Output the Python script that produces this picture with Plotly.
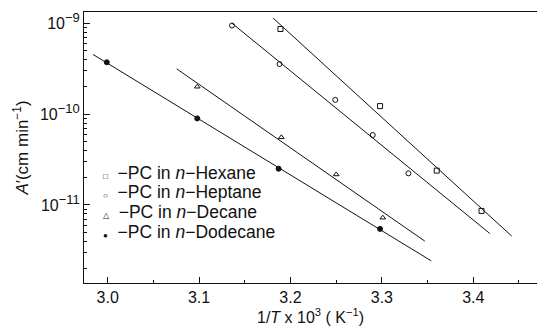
import numpy as np
import plotly.graph_objects as go

# 1/T x 10^3 (K^-1) and A' (cm min^-1) for PC in each n-alkane
hexane_x = [3.189, 3.298, 3.360, 3.409]
hexane_y = [8.7e-10, 1.23e-10, 2.39e-11, 8.6e-12]

heptane_x = [3.136, 3.188, 3.249, 3.290, 3.329]
heptane_y = [9.5e-10, 3.58e-10, 1.44e-10, 5.9e-11, 2.23e-11]

decane_x = [3.098, 3.190, 3.250, 3.301]
decane_y = [2.01e-10, 5.57e-11, 2.17e-11, 7.24e-12]

dodecane_x = [2.999, 3.098, 3.187, 3.298]
dodecane_y = [3.74e-10, 9.0e-11, 2.51e-11, 5.45e-12]

# x-extent of each Arrhenius fit line
hexane_fit_span = [3.181, 3.442]
heptane_fit_span = [3.136, 3.418]
decane_fit_span = [3.0755, 3.347]
dodecane_fit_span = [2.984, 3.354]

x_tick_vals = [3.0, 3.1, 3.2, 3.3, 3.4]
x_tick_text = ["3.0", "3.1", "3.2", "3.3", "3.4"]
y_tick_vals = [1e-11, 1e-10, 1e-9]
y_tick_text = [
    "10<sup><span style='font-size:13px'>−11</span></sup>",
    "10<sup><span style='font-size:13px'>−10</span></sup>",
    "10<sup><span style='font-size:13px'>−9</span></sup>",
]

legend_labels = [
    "−PC in <i>n</i>−Hexane",
    "−PC in <i>n</i>−Heptane",
    "−PC in <i>n</i>−Decane",
    "−PC in <i>n</i>−Dodecane",
]

FONT = "Liberation Sans, Arial, sans-serif"
INK = "#111111"

series = [
    (hexane_x, hexane_y, hexane_fit_span, "square-open", 5),
    (heptane_x, heptane_y, heptane_fit_span, "circle-open", 5),
    (decane_x, decane_y, decane_fit_span, "triangle-up-open", 5),
    (dodecane_x, dodecane_y, dodecane_fit_span, "circle", 5),
]

fig = go.Figure()
for xs, ys, span, sym, size in series:
    # straight-line fit of log10(A') against 1/T
    slope, icpt = np.polyfit(np.array(xs), np.log10(np.array(ys)), 1)
    fx = np.array(span)
    fy = 10 ** (slope * fx + icpt)
    fig.add_trace(go.Scatter(x=fx, y=fy, mode="lines",
                             line=dict(color=INK, width=1), showlegend=False,
                             hoverinfo="skip"))
    fig.add_trace(go.Scatter(x=xs, y=ys, mode="markers",
                             marker=dict(symbol=sym, size=size, color=INK,
                                         line=dict(color=INK, width=1)),
                             showlegend=False))

# hand-set legend block in the lower-left of the plot
legend_symbols = ["□", "○", "△", "●"]
row_y = [0.405, 0.335, 0.263, 0.189]
for sym, label, yy in zip(legend_symbols, legend_labels, row_y):
    fig.add_annotation(
        xref="paper", yref="paper", x=0.038, y=yy, xanchor="left", yanchor="middle",
        text=f"<span style='font-size:8px'>{sym}</span>  {label}",
        showarrow=False, font=dict(family=FONT, size=17.5, color=INK),
    )

minor_y = [m * 10.0 ** e for e in (-12, -11, -10, -9) for m in range(2, 10)]

fig.update_layout(
    width=538, height=331,
    margin=dict(l=84, r=1, t=12, b=48),
    paper_bgcolor="white", plot_bgcolor="white",
    font=dict(family=FONT, size=16, color=INK),
    xaxis=dict(
        range=[2.9741, 3.4697], showgrid=False, zeroline=False,
        showline=True, linecolor=INK, linewidth=1, mirror=True,
        tickmode="array", tickvals=x_tick_vals, ticktext=x_tick_text,
        ticks="inside", ticklen=6, tickcolor=INK,
        minor=dict(dtick=0.05, tick0=3.05, ticks="inside", ticklen=3, tickcolor=INK, showgrid=False),
        title=dict(text="1/<i>T</i> x 10<sup>3</sup> ( K<sup>−1</sup>)", standoff=4,
                   font=dict(size=16)),
    ),
    yaxis=dict(
        type="log", range=[-11.86, -8.873], showgrid=False, zeroline=False,
        showline=True, linecolor=INK, linewidth=1, mirror=False,
        tickmode="array", tickvals=y_tick_vals, ticktext=y_tick_text,
        ticks="inside", ticklen=6, tickcolor=INK,
        minor=dict(tickmode="array", tickvals=minor_y, ticks="inside", ticklen=3,
                   tickcolor=INK, showgrid=False),
        title=dict(text="<i>A</i>′(cm min<sup>−1</sup>)", standoff=6, font=dict(size=17)),
    ),
)

fig.write_html("out.html")
